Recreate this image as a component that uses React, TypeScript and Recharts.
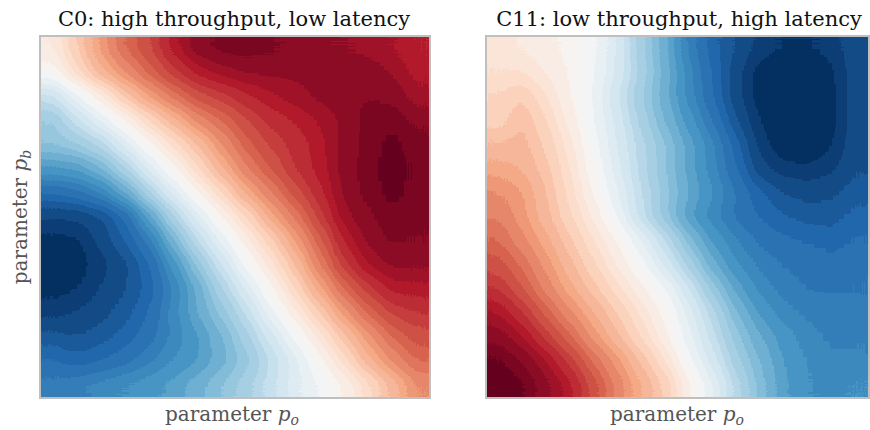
import React from 'react';
import { ScatterChart, Scatter, XAxis, YAxis } from 'recharts';

// cell centres along parameter p_o (left -> right) and p_b (top -> bottom)
const poCells = [0.5, 1.5, 2.5, 3.5, 4.5, 5.5, 6.5, 7.5, 8.5, 9.5, 10.5, 11.5, 12.5, 13.5, 14.5, 15.5];
const pbCells = [0.5, 1.5, 2.5, 3.5, 4.5, 5.5, 6.5, 7.5, 8.5, 9.5, 10.5, 11.5, 12.5, 13.5, 14.5];

// normalised score x100: -100 = deep blue, 0 = white, 100 = deep red (one row per p_b cell)
const c0Values = [
  [10, 25, 42, 55, 65, 78, 88, 92, 93, 91, 88, 86, 85, 83, 80, 76],
  [0, 18, 33, 45, 57, 68, 77, 82, 85, 86, 86, 87, 88, 88, 84, 78],
  [-22, -7, 9, 26, 40, 52, 62, 68, 74, 79, 83, 86, 89, 90, 89, 82],
  [-36, -22, -10, 4, 20, 33, 47, 55, 65, 72, 76, 80, 86, 92, 94, 89],
  [-40, -36, -28, -13, 3, 17, 30, 45, 58, 66, 72, 78, 87, 92, 97, 92],
  [-56, -54, -45, -30, -13, 3, 19, 35, 50, 60, 70, 77, 87, 93, 98, 94],
  [-75, -72, -65, -50, -30, -13, 4, 20, 37, 50, 62, 73, 86, 92, 97, 93],
  [-90, -89, -85, -75, -52, -30, -12, 5, 20, 38, 51, 67, 83, 89, 94, 92],
  [-97, -96, -88, -80, -68, -45, -25, -8, 8, 23, 40, 58, 76, 86, 91, 90],
  [-100, -98, -92, -86, -76, -58, -38, -20, -2, 13, 30, 50, 68, 80, 86, 86],
  [-97, -95, -90, -85, -78, -65, -48, -30, -14, 3, 20, 38, 55, 68, 77, 78],
  [-92, -90, -87, -82, -75, -62, -50, -38, -24, -7, 9, 25, 42, 56, 66, 70],
  [-83, -85, -82, -78, -72, -64, -55, -45, -32, -18, -3, 12, 28, 43, 55, 62],
  [-75, -78, -76, -72, -66, -60, -55, -47, -37, -25, -12, 2, 17, 33, 46, 55],
  [-68, -66, -63, -60, -57, -53, -47, -40, -32, -22, -12, -4, 5, 18, 32, 45],
];

const c11Values = [
  [12, 10, 7, 3, -3, -15, -33, -48, -66, -78, -85, -92, -95, -95, -93, -86],
  [15, 15, 10, 4, -4, -16, -32, -47, -63, -76, -88, -98, -100, -100, -96, -87],
  [20, 25, 15, 5, -5, -20, -35, -48, -62, -75, -88, -98, -100, -100, -97, -87],
  [22, 30, 20, 8, -4, -17, -32, -45, -58, -70, -84, -95, -100, -100, -97, -87],
  [30, 32, 24, 12, -2, -15, -28, -40, -52, -64, -78, -92, -99, -100, -95, -86],
  [38, 35, 27, 15, 0, -13, -27, -40, -52, -63, -75, -88, -93, -94, -91, -85],
  [45, 40, 30, 18, 4, -10, -25, -38, -50, -60, -70, -79, -85, -87, -86, -82],
  [50, 42, 32, 21, 9, -5, -23, -38, -54, -63, -71, -76, -80, -82, -82, -78],
  [55, 47, 37, 26, 15, 4, -10, -25, -42, -56, -65, -71, -74, -76, -77, -75],
  [62, 54, 43, 32, 21, 10, -2, -16, -32, -48, -60, -66, -70, -72, -73, -72],
  [70, 60, 48, 37, 27, 17, 7, -4, -20, -37, -52, -62, -67, -70, -70, -70],
  [80, 70, 58, 46, 36, 25, 14, 3, -12, -28, -44, -56, -63, -66, -68, -68],
  [88, 80, 68, 56, 43, 31, 19, 7, -8, -23, -38, -50, -58, -63, -66, -66],
  [96, 90, 80, 68, 54, 42, 29, 15, -3, -18, -33, -45, -55, -61, -64, -64],
  [100, 96, 87, 77, 62, 48, 36, 24, 6, -10, -27, -42, -54, -60, -62, -60],
];

const rdbuStops = ['#053061', '#2166ac', '#4393c3', '#92c5de', '#d1e5f0', '#f7f7f7', '#fddbc7', '#f4a582', '#d6604d', '#b2182b', '#67001f'];
const LEVELS = 40;
const H = 430;

function hexToRgb(h: string) {
  const n = parseInt(h.slice(1), 16);
  return [(n >> 16) & 255, (n >> 8) & 255, n & 255];
}

// discrete lookup tables: grey level -> RdBu colour band
function buildTables() {
  const r: string[] = [];
  const g: string[] = [];
  const b: string[] = [];
  for (let k = 0; k < LEVELS; k++) {
    const t = (k / (LEVELS - 1)) * (rdbuStops.length - 1);
    const i = Math.min(Math.floor(t), rdbuStops.length - 2);
    const f = t - i;
    const a = hexToRgb(rdbuStops[i]);
    const c = hexToRgb(rdbuStops[i + 1]);
    r.push(((a[0] + (c[0] - a[0]) * f) / 255).toFixed(4));
    g.push(((a[1] + (c[1] - a[1]) * f) / 255).toFixed(4));
    b.push(((a[2] + (c[2] - a[2]) * f) / 255).toFixed(4));
  }
  return { r: r.join(' '), g: g.join(' '), b: b.join(' ') };
}

function toPoints(values: number[][]) {
  const pts: { x: number; y: number; v: number }[] = [];
  values.forEach((row, j) => row.forEach((v, i) => pts.push({ x: poCells[i], y: pbCells[j], v })));
  return pts;
}

interface PanelProps {
  id: string;
  values: number[][];
  left: number;
  width: number;
  margin: { top: number; right: number; bottom: number; left: number };
}

function HeatPanel({ id, values, left, width, margin }: PanelProps) {
  const plotW = width - margin.left - margin.right;
  const plotH = H - margin.top - margin.bottom;
  const cw = plotW / poCells.length;
  const ch = plotH / pbCells.length;

  const cell = (p: any) => {
    const g = Math.round(((p.payload.v + 100) / 200) * 255);
    return (
      <rect
        x={p.cx - cw / 2 - 0.5}
        y={p.cy - ch / 2 - 0.5}
        width={cw + 1}
        height={ch + 1}
        fill={`rgb(${g},${g},${g})`}
      />
    );
  };

  return (
    <div className={`panel-${id}`} style={{ position: 'absolute', left, top: 0 }}>
      <ScatterChart width={width} height={H} margin={margin}>
        <XAxis type="number" dataKey="x" domain={[0, poCells.length]} hide />
        <YAxis type="number" dataKey="y" domain={[0, pbCells.length]} reversed hide />
        <Scatter data={toPoints(values)} shape={cell} isAnimationActive={false} />
      </ScatterChart>
    </div>
  );
}

const leftMargin = { top: 37, right: 6, bottom: 33, left: 41 };
const rightMargin = { top: 37, right: 2, bottom: 33, left: 47 };

export default function App() {
  const tables = buildTables();
  const filter = (id: string, m: typeof leftMargin, w: number) => (
    <filter
      id={id}
      filterUnits="userSpaceOnUse"
      x={m.left}
      y={m.top}
      width={w - m.left - m.right}
      height={H - m.top - m.bottom}
      colorInterpolationFilters="sRGB"
    >
      <feGaussianBlur stdDeviation={9} />
      <feComponentTransfer>
        <feFuncR type="discrete" tableValues={tables.r} />
        <feFuncG type="discrete" tableValues={tables.g} />
        <feFuncB type="discrete" tableValues={tables.b} />
        <feFuncA type="linear" slope={0} intercept={1} />
      </feComponentTransfer>
    </filter>
  );

  const font = '"DejaVu Serif", serif';

  return (
    <div style={{ position: 'absolute', left: 0, top: 0, width: 870, height: H, background: '#fff' }}>
      <style>{`
        .panel-c0 .recharts-scatter { filter: url(#heat-c0); }
        .panel-c11 .recharts-scatter { filter: url(#heat-c11); }
      `}</style>
      <svg width={0} height={0} style={{ position: 'absolute' }}>
        <defs>
          {filter('heat-c0', leftMargin, 435)}
          {filter('heat-c11', rightMargin, 430)}
        </defs>
      </svg>

      <HeatPanel id="c0" values={c0Values} left={0} width={435} margin={leftMargin} />
      <HeatPanel id="c11" values={c11Values} left={440} width={430} margin={rightMargin} />

      <svg width={870} height={H} style={{ position: 'absolute', left: 0, top: 0, pointerEvents: 'none' }}>
        <rect x={40} y={36} width={390} height={362} fill="none" stroke="#bfbfbf" strokeWidth={2} />
        <rect x={486} y={36} width={383} height={362} fill="none" stroke="#bfbfbf" strokeWidth={2} />

        <text x={234} y={26} textAnchor="middle" fontFamily={font} fontSize={21} fill="#111">
          C0: high throughput, low latency
        </text>
        <text x={679} y={26} textAnchor="middle" fontFamily={font} fontSize={21} fill="#111">
          C11: low throughput, high latency
        </text>

        <text x={232} y={421} textAnchor="middle" fontFamily={font} fontSize={20} fill="#555">
          parameter <tspan fontStyle="italic">p</tspan>
          <tspan fontStyle="italic" fontSize={14} dy={4}>o</tspan>
        </text>
        <text x={677} y={421} textAnchor="middle" fontFamily={font} fontSize={20} fill="#555">
          parameter <tspan fontStyle="italic">p</tspan>
          <tspan fontStyle="italic" fontSize={14} dy={4}>o</tspan>
        </text>
        <text
          transform="translate(27 217) rotate(-90)"
          textAnchor="middle"
          fontFamily={font}
          fontSize={20}
          fill="#555"
        >
          parameter <tspan fontStyle="italic">p</tspan>
          <tspan fontStyle="italic" fontSize={14} dy={4}>b</tspan>
        </text>
      </svg>
    </div>
  );
}
